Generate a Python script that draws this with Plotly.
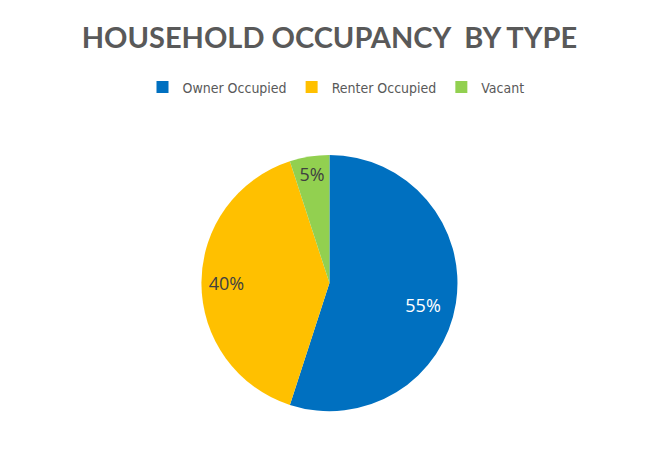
import plotly.graph_objects as go

labels = ["Owner Occupied", "Renter Occupied", "Vacant"]
shares = [55, 40, 5]
colors = ["#0070C0", "#FFC000", "#92D050"]
label_colors = ["white", "#404040", "#404040"]

# pad the labels so they sit nearer the rim, like the original
pad = "\u00a0"
templates = [
    pad + "<br>" + pad * 13 + "%{percent:.0%}",
    "%{percent:.0%}" + pad * 16,
    "%{percent:.0%}",
]

fig = go.Figure()

fig.add_trace(go.Pie(
    labels=labels, values=shares,
    marker=dict(colors=colors),
    sort=False, direction="clockwise", rotation=0,
    textinfo="percent", texttemplate=templates,
    textposition="inside", insidetextorientation="horizontal",
    textfont=dict(family="Open Sans", size=18, color=label_colors),
    domain=dict(x=[0.19, 0.79], y=[0.112, 0.676]),
    showlegend=True
))

fig.update_layout(
    width=656, height=454,
    margin=dict(l=0, r=0, t=0, b=0),
    paper_bgcolor="white",
    title=dict(text="HOUSEHOLD OCCUPANCY  BY TYPE", x=0.49, xanchor="center",
               y=0.935, yanchor="middle",
               font=dict(family="Lato", size=29, color="#595959", weight="bold")),
    legend=dict(orientation="h", x=0.5, xanchor="center", y=0.825, yanchor="middle",
                font=dict(family="DejaVu Sans Condensed", size=14, color="#595959"),
                itemwidth=30, tracegroupgap=0),
)

fig.write_html("out.html")
